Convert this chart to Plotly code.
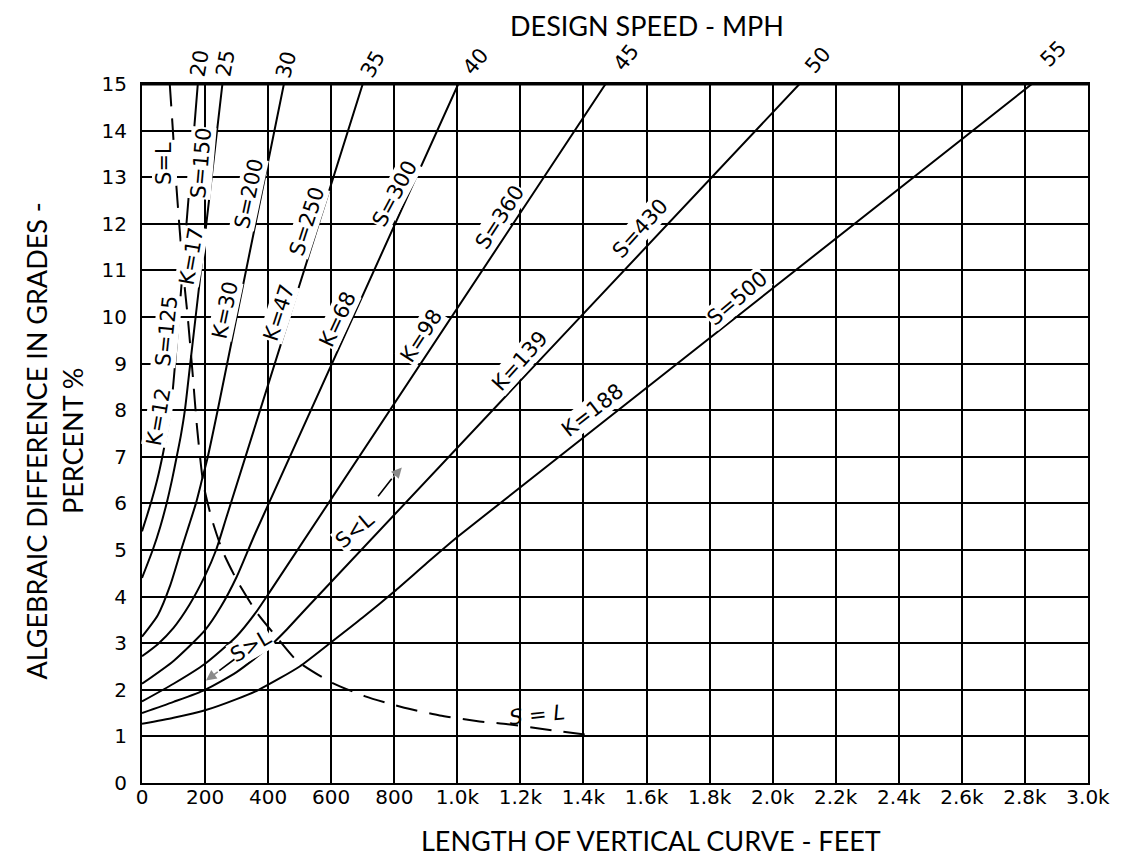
import plotly.graph_objects as go

# ---------------- data ----------------
x_tick_vals = [0, 200, 400, 600, 800, 1000, 1200, 1400, 1600, 1800, 2000, 2200, 2400, 2600, 2800, 3000]
x_tick_text = ["0", "200", "400", "600", "800", "1.0k", "1.2k", "1.4k", "1.6k", "1.8k", "2.0k",
               "2.2k", "2.4k", "2.6k", "2.8k", "3.0k"]
y_tick_vals = list(range(0, 16))

speed_labels = ["20", "25", "30", "35", "40", "45", "50", "55"]
S_labels = ["S=125", "S=150", "S=200", "S=250", "S=300", "S=360", "S=430", "S=500"]
K_labels = ["K=12", "K=17", "K=30", "K=47", "K=68", "K=98", "K=139", "K=188"]

# curve for S=125 / K=12 (20 mph)
c125_L = [0, 15, 30, 48, 66, 80, 92, 105, 117, 177]
c125_A = [5.40, 5.72, 6.05, 6.50, 7.05, 7.55, 8.05, 9.0, 10.0, 15.0]
# S=150 / K=17 (25 mph)
c150_L = [0, 34, 58, 78, 95, 110, 123, 136, 153, 170, 255]
c150_A = [4.40, 5.0, 5.5, 6.0, 6.5, 7.0, 7.45, 8.0, 9.0, 10.0, 15.0]
# S=200 / K=30 (30 mph)
c200_L = [0, 50, 90, 124, 150, 171, 190, 207, 240, 450]
c200_A = [3.14, 3.60, 4.25, 5.0, 5.55, 6.0, 6.5, 6.95, 8.0, 15.0]
# S=250 / K=47 (35 mph)
c250_L = [0, 50, 100, 150, 200, 235, 270, 700]
c250_A = [2.72, 2.98, 3.33, 3.82, 4.45, 5.0, 5.75, 15.0]
# S=300 / K=68 (40 mph)
c300_L = [0, 100, 200, 250, 300, 360, 1003]
c300_A = [2.13, 2.62, 3.28, 3.78, 4.42, 5.37, 15.0]
# S=360 / K=98 (45 mph)
c360_L = [0, 100, 200, 300, 360, 410, 1470]
c360_A = [1.75, 2.13, 2.56, 3.15, 3.65, 4.15, 15.0]
# S=430 / K=139 (50 mph)
c430_L = [0, 100, 200, 300, 400, 460, 520, 2085]
c430_A = [1.50, 1.74, 2.0, 2.38, 2.9, 3.3, 3.74, 15.0]
# S=500 / K=188 (55 mph)
c500_L = [0, 100, 200, 300, 370, 500, 600, 700, 800, 900, 1000, 2822]
c500_A = [1.27, 1.40, 1.56, 1.80, 2.0, 2.5, 3.02, 3.55, 4.11, 4.70, 5.28, 15.0]

# dashed S = L boundary
sl_L = [88, 98, 107, 118, 130, 145, 160, 175, 195, 222, 256, 305, 365, 421, 492, 603, 708, 823, 944,
        1060, 1160, 1270, 1404]
sl_A = [15.0, 14.0, 13.0, 12.0, 11.0, 10.0, 8.83, 7.6, 6.4, 5.65, 4.97, 4.3, 3.65, 3.18, 2.62, 2.15,
        1.86, 1.63, 1.45, 1.33, 1.26, 1.16, 1.04]

curves = [(c125_L, c125_A), (c150_L, c150_A), (c200_L, c200_A), (c250_L, c250_A),
          (c300_L, c300_A), (c360_L, c360_A), (c430_L, c430_A), (c500_L, c500_A)]

LABEL_FONT = dict(family="DejaVu Sans", size=21, color="black")
TITLE_FONT = dict(family="Lato", size=27, color="black")

fig = go.Figure()
for L, A in curves:
    fig.add_trace(go.Scatter(x=L, y=A, mode="lines", hoverinfo="skip", showlegend=False,
                             line=dict(color="black", width=2, shape="spline", smoothing=0.6)))
fig.add_trace(go.Scatter(x=sl_L, y=sl_A, mode="lines", hoverinfo="skip", showlegend=False,
                         line=dict(color="black", width=2, dash="22px,12px", shape="spline",
                                   smoothing=0.6)))

annotations = []


def lab(text, x, y, angle, bg=True, yref="y"):
    annotations.append(dict(x=x, y=y, xref="x", yref=yref, text=text, showarrow=False,
                            textangle=angle, font=LABEL_FONT,
                            bgcolor="white" if bg else None, borderpad=0,
                            xanchor="center", yanchor="middle"))


# speed labels above the top edge (x in feet, y in paper units)
speed_pos = [(183, 1.030, -80), (265, 1.030, -80), (459, 1.028, -75), (732, 1.029, -60),
             (1059, 1.033, -50), (1537, 1.038, -52), (2143, 1.035, -50), (2890, 1.043, -45)]
for t, (x, y, a) in zip(speed_labels, speed_pos):
    lab(t, x, y, a, bg=False, yref="paper")

S_pos = [(78, 9.7, -84), (188, 13.3, -85), (338, 12.65, -78), (525, 12.05, -72),
         (800, 12.65, -62), (1135, 12.15, -57), (1582, 11.9, -48), (1890, 10.4, -40)]
K_pos = [(53, 7.85, -80), (158, 11.3, -80), (264, 10.15, -78), (436, 10.1, -72),
         (622, 9.95, -65), (885, 9.6, -57), (1198, 9.06, -48), (1430, 8.0, -38)]
for t, (x, y, a) in zip(S_labels, S_pos):
    lab(t, x, y, a)
for t, (x, y, a) in zip(K_labels, K_pos):
    lab(t, x, y, a)

lab("S=L", 72, 13.3, -90)
lab("S&lt;L", 675, 5.44, -40)
lab("S&gt;L", 345, 2.95, -30)
lab("<i>S = L</i>", 1252, 1.47, -6, bg=False)

# arrows: black shaft + gray head
for (tx, ty), (bx, by), (hx, hy) in [((745, 6.12), (792, 6.53), (824, 6.77)),
                                      ((298, 2.68), (245, 2.41), (203, 2.20))]:
    annotations.append(dict(x=bx, y=by, ax=tx, ay=ty, xref="x", yref="y", axref="x", ayref="y",
                            text="", showarrow=True, arrowhead=0, arrowwidth=1.6,
                            arrowcolor="black"))
    annotations.append(dict(x=hx, y=hy, ax=bx, ay=by, xref="x", yref="y", axref="x", ayref="y",
                            text="", showarrow=True, arrowhead=2, arrowsize=1.3, arrowwidth=1.6,
                            arrowcolor="#8a8a8a"))

# titles
annotations.append(dict(x=0.534, y=1.083, xref="paper", yref="paper", text="DESIGN SPEED - MPH",
                        showarrow=False, font=TITLE_FONT, xanchor="center", yanchor="middle"))
annotations.append(dict(x=0.538, y=-0.082, xref="paper", yref="paper",
                        text="LENGTH OF VERTICAL CURVE - FEET",
                        showarrow=False, font=TITLE_FONT, xanchor="center", yanchor="middle"))
annotations.append(dict(x=-0.092, y=0.49, xref="paper", yref="paper",
                        text="ALGEBRAIC DIFFERENCE IN GRADES -<br>PERCENT %",
                        showarrow=False, font=TITLE_FONT, textangle=-90,
                        xanchor="center", yanchor="middle"))

axis_common = dict(showgrid=True, gridcolor="black", gridwidth=2, zeroline=False,
                   showline=True, linecolor="black", linewidth=2, mirror=True, ticks="",
                   tickfont=dict(family="DejaVu Sans", size=20, color="black"))

fig.update_layout(
    width=1121, height=863,
    margin=dict(l=134, r=41, t=76, b=88),
    plot_bgcolor="white", paper_bgcolor="white",
    showlegend=False,
    xaxis=dict(range=[0, 3000], tickvals=x_tick_vals, ticktext=x_tick_text,
               ticklabelstandoff=-5, **axis_common),
    yaxis=dict(range=[0, 15], tickvals=y_tick_vals, ticklabelstandoff=9, **axis_common),
    annotations=annotations,
    shapes=[dict(type="line", xref="paper", yref="paper", x0=0, x1=1, y0=1, y1=1,
                 line=dict(color="black", width=3))],
)

fig.write_html("out.html")
